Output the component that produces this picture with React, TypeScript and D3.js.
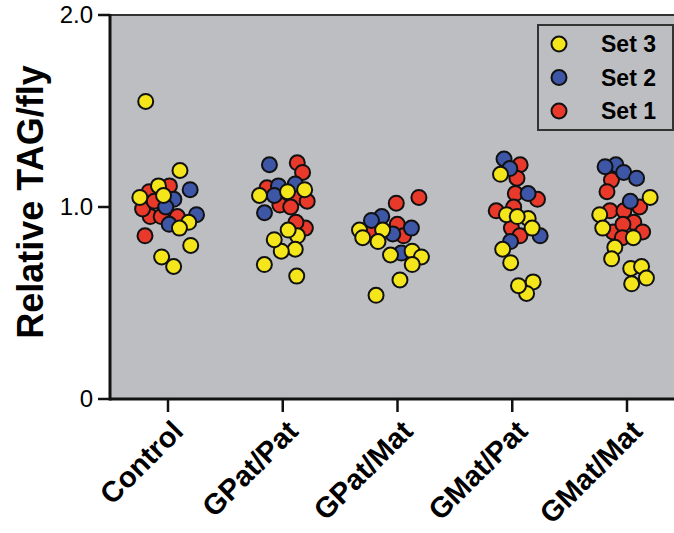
import React, { useEffect, useRef } from "react"
import * as d3 from "d3"

// genotypes along the x axis
const categories = ["Control", "GPat/Pat", "GPat/Mat", "GMat/Pat", "GMat/Mat"]

// Set 1 (red) relative TAG values, one list per genotype
const set1 = [
	[1.11, 1.08, 0.95, 0.95, 0.85, 0.99, 1.03, 0.95],
	[1.23, 1.18, 1.1, 1.01, 1.05, 1.03, 1.0, 0.89, 0.92],
	[1.02, 1.05, 0.91, 0.87, 0.85],
	[1.22, 1.15, 1.04, 1.07, 0.98, 1.0, 0.89, 0.85],
	[1.14, 1.08, 0.98, 1.0, 0.98, 0.92, 0.87, 0.87, 0.91, 0.84],
]

// Set 2 (blue)
const set2 = [
	[1.09, 1.04, 1.0, 0.96, 0.91],
	[1.22, 1.12, 1.11, 0.97, 1.06],
	[0.95, 0.93, 0.86, 0.76, 0.89],
	[1.25, 1.2, 1.07, 0.85, 0.82],
	[1.22, 1.18, 1.21, 1.15, 1.03],
]

// Set 3 (yellow)
const set3 = [
	[1.55, 1.19, 1.11, 1.06, 1.05, 0.92, 0.89, 0.8, 0.74, 0.69],
	[1.08, 1.06, 1.09, 0.85, 0.88, 0.78, 0.77, 0.83, 0.7, 0.64],
	[0.88, 0.88, 0.84, 0.82, 0.77, 0.75, 0.74, 0.7, 0.62, 0.54],
	[1.17, 0.94, 0.96, 0.95, 0.89, 0.78, 0.71, 0.61, 0.55, 0.59],
	[1.05, 0.96, 0.89, 0.84, 0.79, 0.73, 0.68, 0.69, 0.6, 0.63],
]

const yTicks = [0, 1, 2]
const yTickLabels = ["0", "1.0", "2.0"]
const legendLabels = ["Set 3", "Set 2", "Set 1"]

const colors = { "Set 1": "#e8392a", "Set 2": "#3d56a6", "Set 3": "#f5e61c" }

const W = 674
const H = 533

export default function App() {
	const ref = useRef(null)

	useEffect(() => {
		const svg = d3.select(ref.current)
		svg.selectAll("*").remove()

		const left = 110
		const top = 15
		const bottom = 399
		const font = "'Liberation Sans', Arial, Helvetica, sans-serif"

		const y = d3.scaleLinear().domain([0, 2]).range([bottom, top])
		const x = d3.scalePoint().domain(categories).range([168, 627])

		// plot background
		svg.append("rect").attr("x", left).attr("y", top).attr("width", W - left).attr("height", bottom - top).attr("fill", "#bdbec2")
		svg.append("line").attr("x1", left).attr("x2", W).attr("y1", top).attr("y2", top).attr("stroke", "#333").attr("stroke-width", 2)

		// y axis
		const yAxis = svg.append("g").attr("transform", `translate(${left},0)`)
		yAxis
			.selectAll("line")
			.data(yTicks)
			.enter()
			.append("line")
			.attr("x1", -12)
			.attr("x2", 0)
			.attr("y1", d => y(d))
			.attr("y2", d => y(d))
			.attr("stroke", "#111")
			.attr("stroke-width", 2.5)
		yAxis
			.selectAll("text")
			.data(yTicks)
			.enter()
			.append("text")
			.attr("x", -17)
			.attr("y", d => y(d))
			.attr("dy", "0.35em")
			.attr("text-anchor", "end")
			.style("font-family", font)
			.style("font-size", "24px")
			.text((d, i) => yTickLabels[i])
		yAxis.append("line").attr("x1", 0).attr("x2", 0).attr("y1", top - 1).attr("y2", bottom + 1.5).attr("stroke", "#111").attr("stroke-width", 3)

		svg
			.append("text")
			.attr("transform", `translate(43,${(top + bottom) / 2 - 5}) rotate(-90)`)
			.attr("text-anchor", "middle")
			.style("font-family", font)
			.style("font-size", "36px")
			.style("font-weight", "bold")
			.text("Relative TAG/fly")

		// x axis
		svg.append("line").attr("x1", left).attr("x2", W).attr("y1", bottom).attr("y2", bottom).attr("stroke", "#111").attr("stroke-width", 3)
		const xAxis = svg.append("g")
		xAxis
			.selectAll("line")
			.data(categories)
			.enter()
			.append("line")
			.attr("x1", d => x(d))
			.attr("x2", d => x(d))
			.attr("y1", bottom)
			.attr("y2", bottom + 13)
			.attr("stroke", "#111")
			.attr("stroke-width", 2.5)
		xAxis
			.selectAll("text")
			.data(categories)
			.enter()
			.append("text")
			.attr("transform", d => `translate(${x(d) + 17},433) rotate(-45)`)
			.attr("text-anchor", "end")
			.style("font-family", font)
			.style("font-size", "29px")
			.style("font-weight", "bold")
			.text(d => d)

		// points: seeded jitter then a light collision pass
		const series = [
			{ name: "Set 1", values: set1 },
			{ name: "Set 2", values: set2 },
			{ name: "Set 3", values: set3 },
		]
		const rand = d3.randomUniform.source(d3.randomLcg(0.37))(-30, 30)
		const nodes = []
		series.forEach(s => {
			s.values.forEach((vals, ci) => {
				vals.forEach(v => {
					const cx = x(categories[ci])
					nodes.push({ set: s.name, cat: categories[ci], value: v, cx, x: cx + rand(), y: y(v) })
				})
			})
		})
		const sim = d3
			.forceSimulation(nodes)
			.force("x", d3.forceX(d => d.cx).strength(0.004))
			.force("y", d3.forceY(d => y(d.value)).strength(0.9))
			.force("collide", d3.forceCollide(5.5))
			.stop()
		for (let i = 0; i < 150; i++) sim.tick()
		nodes.forEach(n => {
			n.x = Math.max(n.cx - 38, Math.min(n.cx + 38, n.x))
		})

		svg
			.append("g")
			.selectAll("circle")
			.data(nodes)
			.enter()
			.append("circle")
			.attr("cx", d => d.x)
			.attr("cy", d => y(d.value))
			.attr("r", 7.5)
			.attr("fill", d => colors[d.set])
			.attr("stroke", "#111")
			.attr("stroke-width", 2)

		// legend
		const lg = svg.append("g")
		lg.append("rect").attr("x", 538).attr("y", 25).attr("width", 135).attr("height", 105).attr("fill", "#bdbec2").attr("stroke", "#333").attr("stroke-width", 2)
		const ly = d3.scalePoint().domain(legendLabels).range([44, 111])
		lg.selectAll("circle")
			.data(legendLabels)
			.enter()
			.append("circle")
			.attr("cx", 559)
			.attr("cy", d => ly(d))
			.attr("r", 7.5)
			.attr("fill", d => colors[d])
			.attr("stroke", "#111")
			.attr("stroke-width", 2)
		lg.selectAll("text")
			.data(legendLabels)
			.enter()
			.append("text")
			.attr("x", 601)
			.attr("y", d => ly(d))
			.attr("dy", "0.36em")
			.style("font-family", font)
			.style("font-size", "23px")
			.style("font-weight", "bold")
			.text(d => d)
	}, [])

	return (
		<svg ref={ref} width={W} height={H} style={{ position: "absolute", left: 0, top: 0, background: "#fff" }}></svg>
	)
}
